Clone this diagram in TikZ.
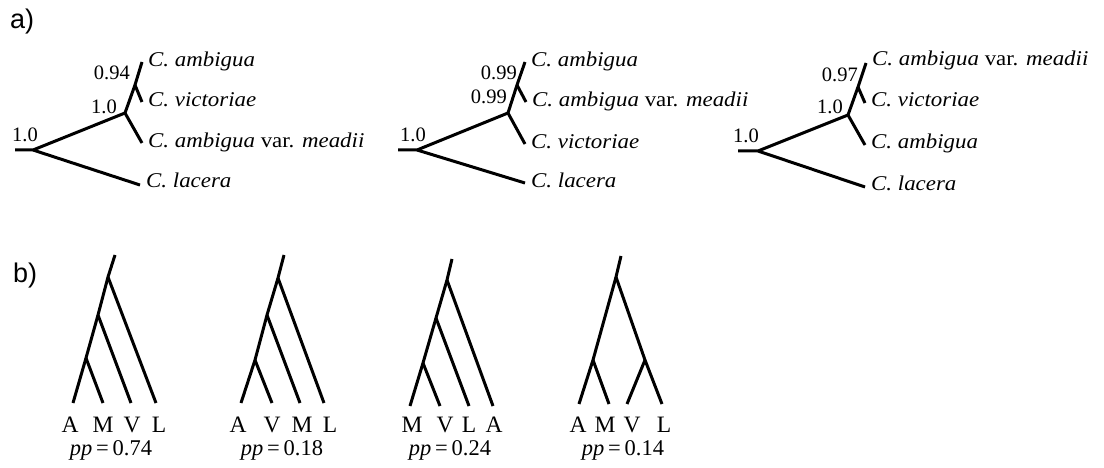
\documentclass[tikz,border=0pt]{standalone}
\usepackage{fontspec}
\setmainfont{Liberation Serif}
\newfontfamily\sflab{Liberation Sans}
\newfontfamily\taxfont{Liberation Serif}[FakeStretch=1.09]
\begin{document}
\begin{tikzpicture}[x=1pt,y=-1pt,
  branch/.style={line width=3pt,line join=miter},
  taxon/.style={anchor=base west,inner sep=0pt,font=\taxfont\fontsize{21}{24}\selectfont},
  supp/.style={anchor=east,inner sep=0pt,font=\fontsize{20.5}{24}\selectfont},
  rootsupp/.style={anchor=south west,inner sep=0pt,font=\fontsize{20.5}{24}\selectfont},
  tip/.style={anchor=base,inner sep=0pt,font=\fontsize{23.5}{26}\selectfont},
  pplab/.style={anchor=base,inner sep=0pt,font=\fontsize{22.5}{26}\selectfont},
  panel/.style={anchor=base west,inner sep=0pt,font=\sflab\fontsize{27}{30}\selectfont}]
\useasboundingbox (0,0) rectangle (1104,468);
\node[panel] (pa) at (10,29) {a)};
\node[panel] (pb) at (13,282) {b)};
% ---- tree a1
\coordinate (a1S) at (15,150); \coordinate (a1R) at (33,150);
\coordinate (a1U) at (125,113); \coordinate (a1L) at (140,185);
\coordinate (a1B) at (142,143); \coordinate (a1I) at (135,85);
\coordinate (a1T) at (142,62); \coordinate (a1M) at (142,102);
\draw[branch] (a1S)--(a1R)--(a1U)--(a1I)--(a1T);
\draw[branch] (a1R)--(a1L); \draw[branch] (a1U)--(a1B); \draw[branch] (a1I)--(a1M);
\node[taxon] (a1tT) at ([shift={(6,5)}]a1T) {\itshape C. ambigua};
\node[taxon] (a1tM) at ([shift={(6,5)}]a1M) {\itshape C. victoriae};
\node[taxon] (a1tB) at ([shift={(6,5)}]a1B) {\itshape C. ambigua \upshape var. \itshape meadii};
\node[taxon] (a1tL) at ([shift={(6,3)}]a1L) {\itshape C. lacera};
\node[supp] (a1s1) at (130,73) {0.94};
\node[supp] (a1s2) at (117,107) {1.0};
\node[rootsupp] (a1s3) at (12,142) {1.0};
% ---- tree a2
\coordinate (a2S) at (398,150); \coordinate (a2R) at (417,150);
\coordinate (a2U) at (508,113); \coordinate (a2L) at (525,183);
\coordinate (a2B) at (525,144); \coordinate (a2I) at (517,85);
\coordinate (a2T) at (525,62); \coordinate (a2M) at (526,102);
\draw[branch] (a2S)--(a2R)--(a2U)--(a2I)--(a2T);
\draw[branch] (a2R)--(a2L); \draw[branch] (a2U)--(a2B); \draw[branch] (a2I)--(a2M);
\node[taxon] (a2tT) at ([shift={(6,5)}]a2T) {\itshape C. ambigua};
\node[taxon] (a2tM) at ([shift={(6,5)}]a2M) {\itshape C. ambigua \upshape var. \itshape meadii};
\node[taxon] (a2tB) at ([shift={(6,5)}]a2B) {\itshape C. victoriae};
\node[taxon] (a2tL) at ([shift={(6,5)}]a2L) {\itshape C. lacera};
\node[supp] (a2s1) at (517,73) {0.99};
\node[supp] (a2s2) at (507,97) {0.99};
\node[rootsupp] (a2s3) at (400,142) {1.0};
% ---- tree a3
\coordinate (a3S) at (738,151); \coordinate (a3R) at (758,151);
\coordinate (a3U) at (848,115); \coordinate (a3L) at (865,187);
\coordinate (a3B) at (865,145); \coordinate (a3I) at (858,87);
\coordinate (a3T) at (866,63); \coordinate (a3M) at (865,103);
\draw[branch] (a3S)--(a3R)--(a3U)--(a3I)--(a3T);
\draw[branch] (a3R)--(a3L); \draw[branch] (a3U)--(a3B); \draw[branch] (a3I)--(a3M);
\node[taxon] (a3tT) at ([shift={(6,3)}]a3T) {\itshape C. ambigua \upshape var. \itshape meadii};
\node[taxon] (a3tM) at ([shift={(6,4)}]a3M) {\itshape C. victoriae};
\node[taxon] (a3tB) at ([shift={(6,4)}]a3B) {\itshape C. ambigua};
\node[taxon] (a3tL) at ([shift={(6,3)}]a3L) {\itshape C. lacera};
\node[supp] (a3s1) at (858,75) {0.97};
\node[supp] (a3s2) at (843,107) {1.0};
\node[rootsupp] (a3s3) at (733,143) {1.0};
% ---- tree b1
\coordinate (b1top) at (115,255); \coordinate (b1r) at (108,277);
\coordinate (b1n2) at (98,315); \coordinate (b1n3) at (86,358);
\coordinate (b1A) at (73,403); \coordinate (b1M) at (103,403);
\coordinate (b1V) at (131,403); \coordinate (b1L) at (156,403);
\draw[branch] (b1top)--(b1r)--(b1n2)--(b1n3)--(b1A);
\draw[branch] (b1r)--(b1L); \draw[branch] (b1n2)--(b1V); \draw[branch] (b1n3)--(b1M);
\node[tip] (b1lA) at (70,432) {A};
\node[tip] (b1lM) at (103,432) {M};
\node[tip] (b1lV) at (132,432) {V};
\node[tip] (b1lL) at (159,432) {L};
\node[pplab] (b1pp) at (111,455) {\itshape pp\upshape\,=\,0.74};
% ---- tree b2
\coordinate (b2top) at (284,255); \coordinate (b2r) at (278,278);
\coordinate (b2n2) at (267,315); \coordinate (b2n3) at (255,360);
\coordinate (b2A) at (241,403); \coordinate (b2V) at (272,403);
\coordinate (b2M) at (300,403); \coordinate (b2L) at (324,403);
\draw[branch] (b2top)--(b2r)--(b2n2)--(b2n3)--(b2A);
\draw[branch] (b2r)--(b2L); \draw[branch] (b2n2)--(b2M); \draw[branch] (b2n3)--(b2V);
\node[tip] (b2lA) at (238,432) {A};
\node[tip] (b2lV) at (272,432) {V};
\node[tip] (b2lM) at (302,432) {M};
\node[tip] (b2lL) at (330,432) {L};
\node[pplab] (b2pp) at (282,455) {\itshape pp\upshape\,=\,0.18};
% ---- tree b3
\coordinate (b3top) at (452,259); \coordinate (b3r) at (447,280);
\coordinate (b3n2) at (436,318); \coordinate (b3n3) at (423,363);
\coordinate (b3M) at (410,406); \coordinate (b3V) at (440,406);
\coordinate (b3L) at (469,406); \coordinate (b3A) at (493,406);
\draw[branch] (b3top)--(b3r)--(b3n2)--(b3n3)--(b3M);
\draw[branch] (b3r)--(b3A); \draw[branch] (b3n2)--(b3L); \draw[branch] (b3n3)--(b3V);
\node[tip] (b3lM) at (412,432) {M};
\node[tip] (b3lV) at (445,432) {V};
\node[tip] (b3lL) at (469,432) {L};
\node[tip] (b3lA) at (494,432) {A};
\node[pplab] (b3pp) at (450,455) {\itshape pp\upshape\,=\,0.24};
% ---- tree b4
\coordinate (b4top) at (621,256); \coordinate (b4r) at (616,277);
\coordinate (b4lc) at (593,360); \coordinate (b4rc) at (645,360);
\coordinate (b4A) at (579,404); \coordinate (b4M) at (609,404);
\coordinate (b4V) at (627,404); \coordinate (b4L) at (662,404);
\draw[branch] (b4top)--(b4r)--(b4lc)--(b4A);
\draw[branch] (b4r)--(b4rc)--(b4L); \draw[branch] (b4lc)--(b4M); \draw[branch] (b4rc)--(b4V);
\node[tip] (b4lA) at (578,432) {A};
\node[tip] (b4lM) at (605,432) {M};
\node[tip] (b4lV) at (632,432) {V};
\node[tip] (b4lL) at (664,432) {L};
\node[pplab] (b4pp) at (623,455) {\itshape pp\upshape\,=\,0.14};
\end{tikzpicture}
\end{document}
